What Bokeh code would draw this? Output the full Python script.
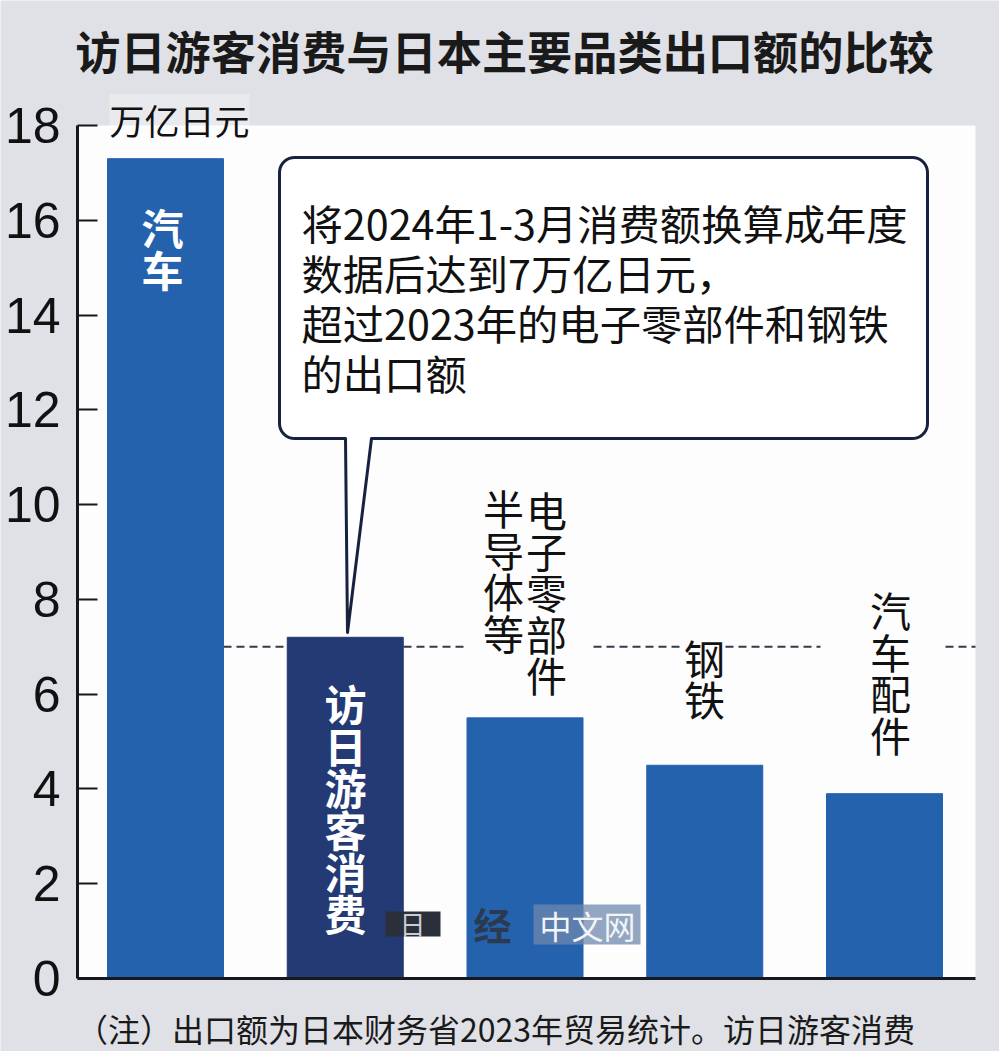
import numpy as np
from bokeh.core.properties import value
from bokeh.embed import file_html
from bokeh.models import ColumnDataSource, FixedTicker, Label, LinearAxis, Range1d
from bokeh.plotting import figure
from bokeh.resources import INLINE

# ---- data -------------------------------------------------------------
categories = ["汽车", "访日游客消费", "电子零部件、半导体等", "钢铁", "汽车配件"]
values = [17.3, 7.2, 5.5, 4.5, 3.9]
bar_colors = ["#2562ae", "#233a74", "#2562ae", "#2562ae", "#2562ae"]
y_ticks = [0, 2, 4, 6, 8, 10, 12, 14, 16, 18]
reference_value = 7
title_text = "访日游客消费与日本主要品类出口额的比较"
unit_text = "万亿日元"
note_text = "（注）出口额为日本财务省2023年贸易统计。访日游客消费"
callout_lines = ["将2024年1-3月消费额换算成年度", "数据后达到7万亿日元，",
                 "超过2023年的电子零部件和钢铁", "的出口额"]

# ---- page-pixel -> data helpers (annotation placement only) ------------
W, H = 999, 1051
L, R, T, B = 77, 975, 125, 978
STEP = 179.75
X0 = 165
PX_PER_UNIT = (B - T) / 18


def X(px):
    return (np.asarray(px, dtype=float) - X0) / STEP


def Y(py):
    return (B - np.asarray(py, dtype=float)) / PX_PER_UNIT


def fx(seq):
    return [float(X(v)) for v in seq]


def fy(seq):
    return [float(Y(v)) for v in seq]


BG = "#e0e1e6"
PANEL = "#fdfdfe"
INK = "#15181f"
NAVY = "#16223f"
CJK = "Noto Sans CJK SC"
DIGITS = "Liberation Sans"
LINE_H = 0.69  # Noto CJK line box is about 1.45 em

# The frame fills the whole canvas, so titles and notes are ordinary marks.
p = figure(
    frame_width=W, frame_height=H, width=W, height=H,
    output_backend="svg", toolbar_location=None,
    x_range=Range1d(float(X(0)), float(X(W))), y_range=Range1d(float(Y(H)), float(Y(0))),
    x_axis_location=None, y_axis_location=None, min_border=0,
)
p.outline_line_color = None
p.grid.visible = False
p.background_fill_color = BG
p.border_fill_color = BG

# white plotting panel
p.quad(left=float(X(L)), right=float(X(R)), top=18, bottom=0, fill_color=PANEL, line_color=None)

yax = LinearAxis(fixed_location=float(X(L)), bounds=(0, 18), ticker=FixedTicker(ticks=y_ticks))
yax.major_tick_in, yax.major_tick_out = 20, 0
yax.minor_tick_line_color = None
yax.major_tick_line_color = INK
yax.major_tick_line_width = 2
yax.axis_line_color = INK
yax.axis_line_width = 3
yax.major_label_text_font = DIGITS
yax.major_label_text_font_size = "50px"
yax.major_label_text_color = "#111111"
yax.major_label_standoff = 17
p.add_layout(yax, "left")

xax = LinearAxis(fixed_location=0, bounds=(float(X(L)), float(X(R))), ticker=FixedTicker(ticks=[]))
xax.minor_tick_line_color = None
xax.major_tick_line_color = None
xax.axis_line_color = INK
xax.axis_line_width = 3
p.add_layout(xax, "below")


def outer_label(px, py, text, size, align, **kw):
    p.add_layout(Label(x=float(X(px)), y=float(Y(py)), text=text, text_font=CJK,
                       text_font_size=size, text_align=align, text_baseline="middle", **kw))


outer_label(504, 50, title_text, "45.2px", "center", text_font_style="bold", text_color="#1a1a1a")
outer_label(109, 119, unit_text, "35px", "left", text_color="#111111",
            background_fill_color="white", background_fill_alpha=0.3)
outer_label(495, 1027, note_text, "32px", "center", text_color="#1a1a1a")

# dashed reference line, broken around the labels above the bars
line_runs = [(223, 286), (403, 467), (593, 680), (725, 820), (945, 975)]
for run in line_runs:
    p.line(fx(run), [reference_value, reference_value],
           line_color="#333a48", line_width=2, line_dash=[8, 5])

# bars
src = ColumnDataSource(dict(x=list(range(len(categories))), top=values,
                            color=bar_colors, name=categories))
p.vbar(x="x", top="top", bottom=0, width=116 / STEP, color="color", source=src)

# callout with tail (one outline)
bx0, bx1, by0, by1, r = 279, 927, 157, 438, 15
t = np.linspace(0, np.pi / 2, 10)
px = np.concatenate([[345, 347, 371], bx1 - r + r * np.sin(t), bx1 - r + r * np.cos(t),
                     bx0 + r - r * np.sin(t), bx0 + r - r * np.cos(t)])
py = np.concatenate([[by1, 632, by1], by1 - r + r * np.cos(t), by0 + r - r * np.sin(t),
                     by0 + r - r * np.cos(t), by1 - r + r * np.sin(t)])
p.patch(X(px), Y(py), fill_color="white", line_color=NAVY, line_width=3,
        line_join="round")

# callout text
p.text(x=fx([301] * 4), y=fy((221, 271, 321, 371)), text=callout_lines,
       text_font=value(CJK), text_font_size=value("41.3px"), text_color="#111111",
       text_align="left", text_baseline="middle")

# vertical labels inside bars
p.text(x=fx((162, 345)), y=fy((247, 807)), text=["汽\n车", "访\n日\n游\n客\n消\n费"],
       text_font=value(CJK), text_font_size=value("42px"), text_font_style="bold",
       text_color="white", text_align="center", text_baseline="middle", text_line_height=LINE_H)

# vertical labels above bars
p.text(x=fx((503, 546, 704, 890)), y=fy((569, 591, 677, 671)),
       text=["半\n导\n体\n等", "电\n子\n零\n部\n件", "钢\n铁", "汽\n车\n配\n件"],
       text_font=value(CJK), text_font_size=value("41px"), text_color="#111111",
       text_align="center", text_baseline="middle", text_line_height=LINE_H)

# watermark
p.quad(left=float(X(533)), right=float(X(640)), top=float(Y(904)), bottom=float(Y(944)),
       fill_color="#6d88ad", fill_alpha=0.75, line_color=None)
p.text(x=fx([587]), y=fy([924]), text=["中文网"], text_font=value(CJK),
       text_font_size=value("32px"), text_color="#f2f4f8", text_align="center",
       text_baseline="middle")
p.quad(left=float(X(385)), right=float(X(440)), top=float(Y(911)), bottom=float(Y(936)),
       fill_color="#2a2f3a", line_color=None)
p.text(x=fx([412]), y=fy([923]), text=["日"], text_font=value(CJK),
       text_font_size=value("26px"), text_color="#c8ccd4", text_align="center",
       text_baseline="middle")
p.text(x=fx([492]), y=fy([923]), text=["经"], text_font=value(CJK),
       text_font_size=value("38px"), text_font_style="bold", text_color="#2b3a50",
       text_align="center", text_baseline="middle")

html = file_html(p, INLINE)
html = html.replace("<body>", f'<body style="margin:0;background:{BG}">', 1)
open("out.html", "w").write(html)
